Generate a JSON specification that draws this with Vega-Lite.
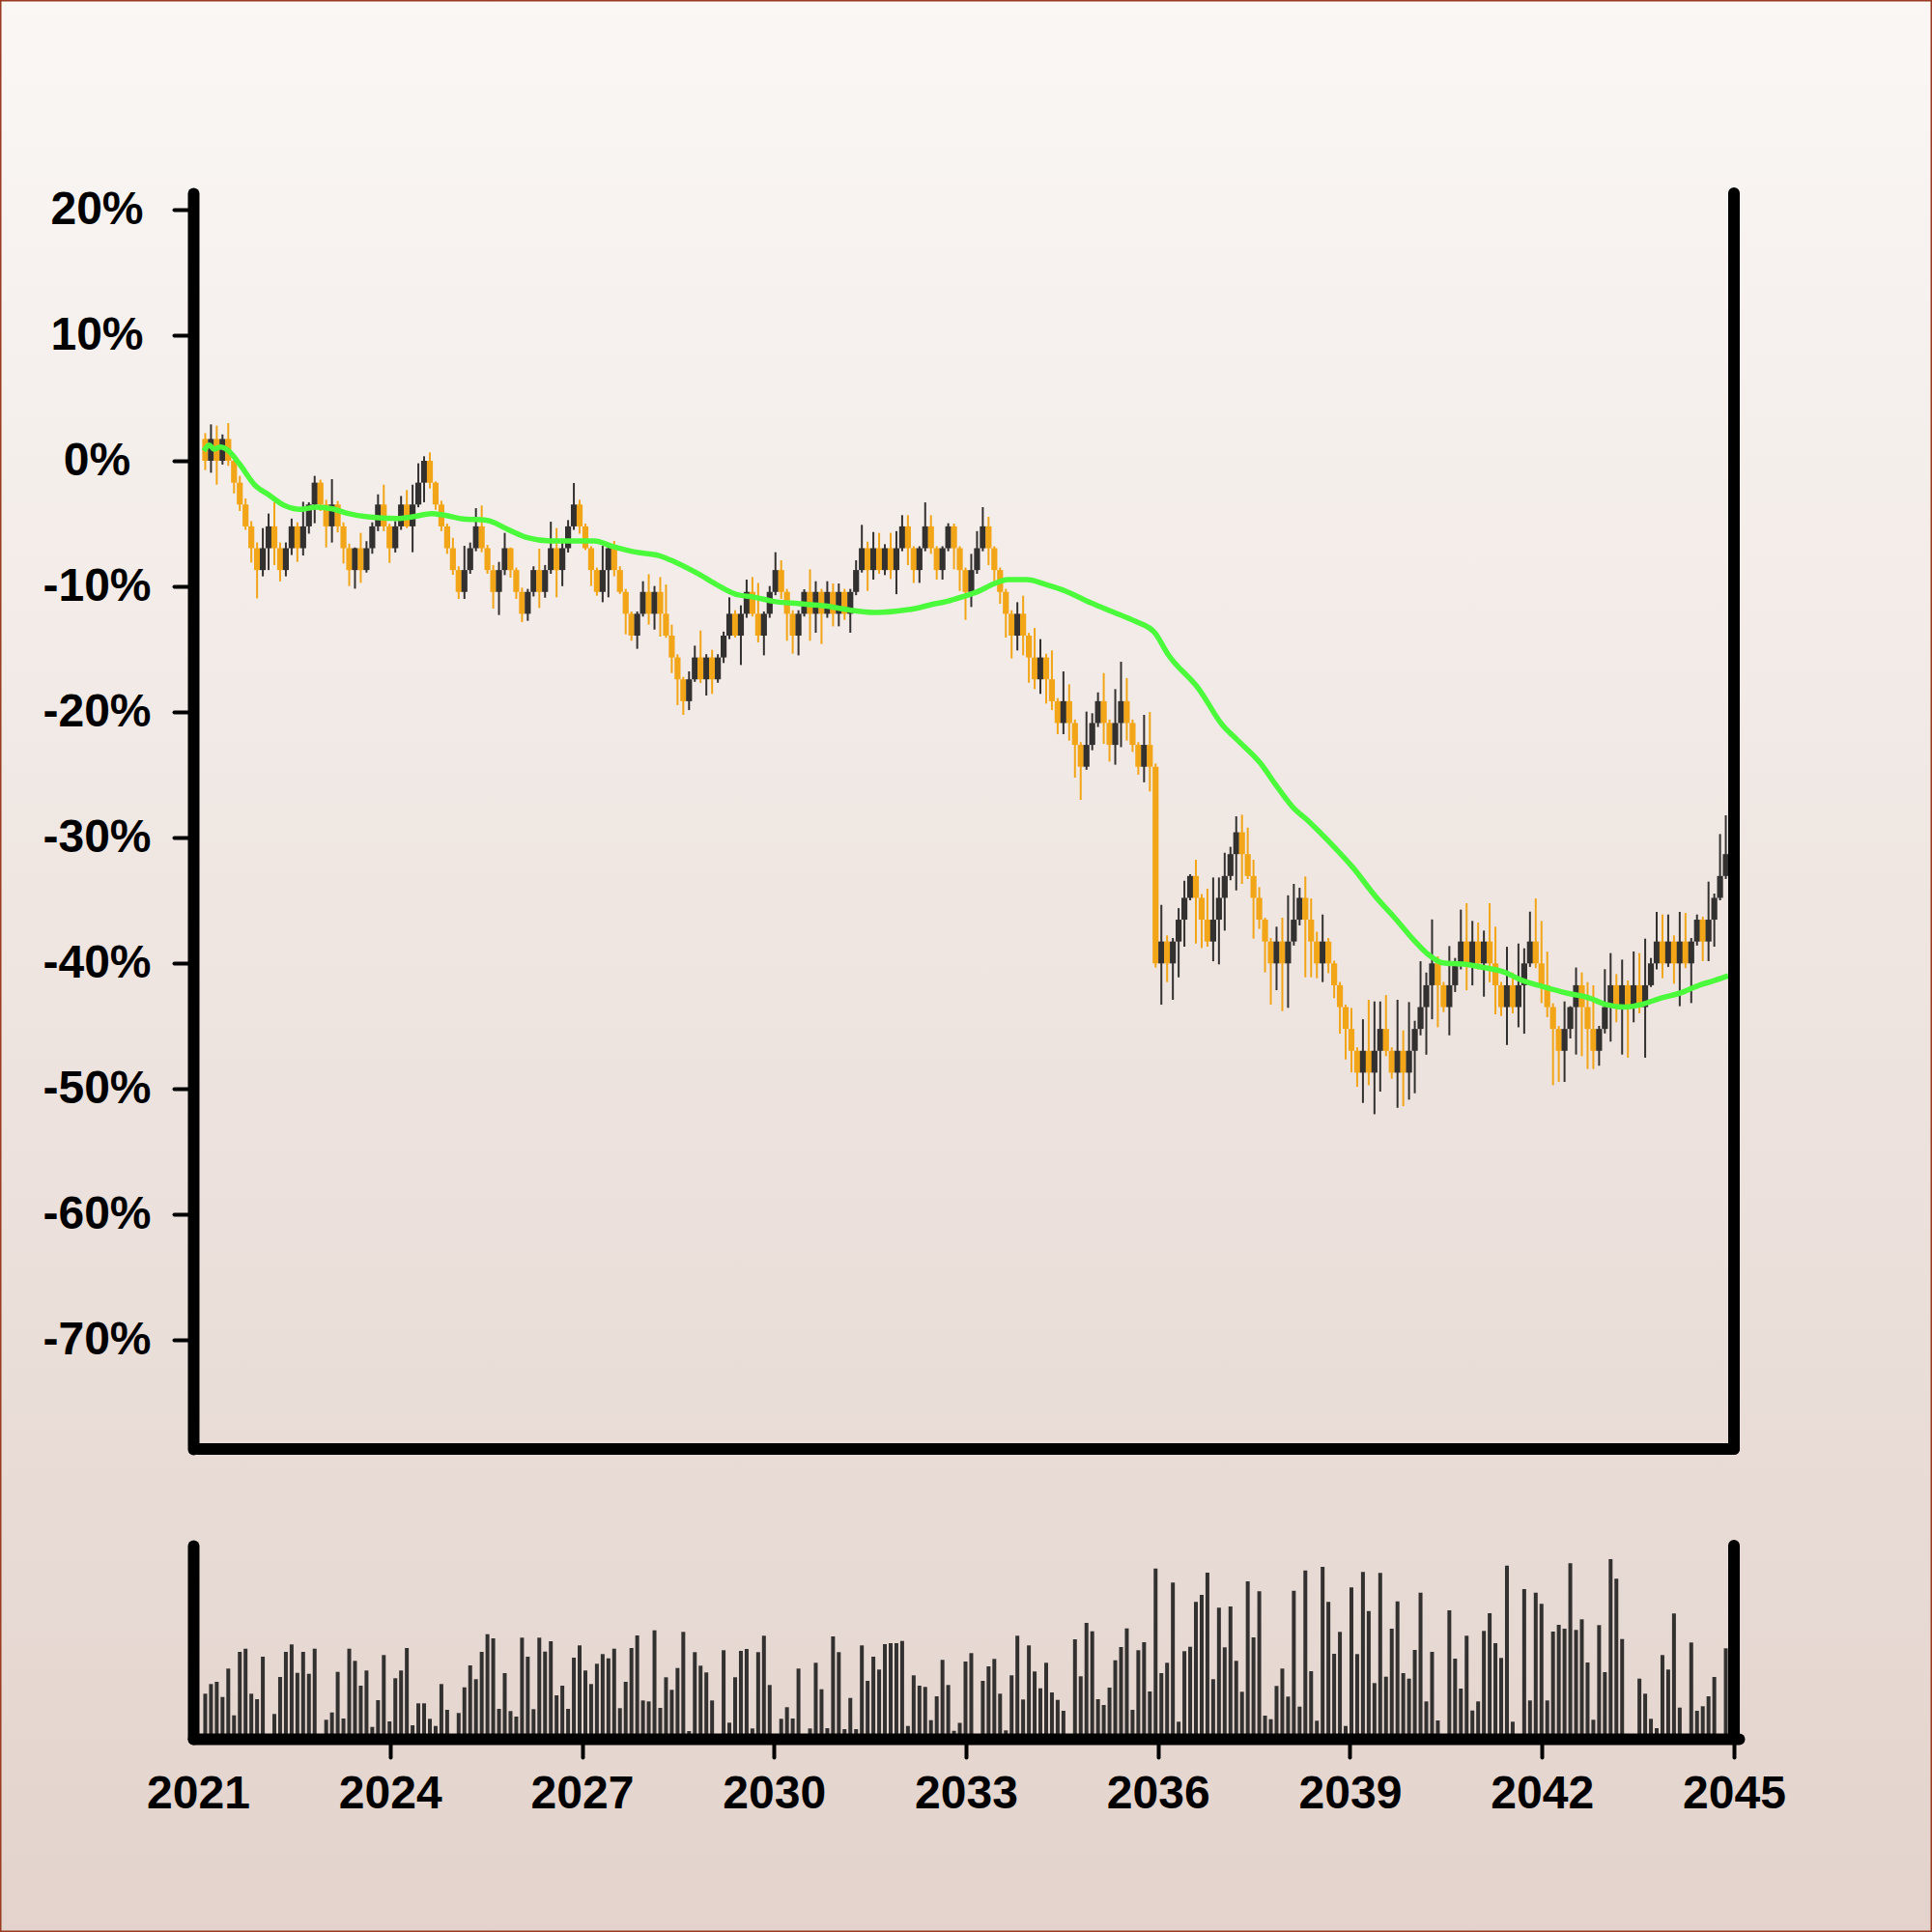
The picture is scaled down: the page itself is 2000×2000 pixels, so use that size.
{
"$schema": "https://vega.github.io/schema/vega-lite/v6.json",
"width": 2000, "height": 2000, "autosize": {"type": "none"}, "padding": 0,
"background": "#f9f6f4",
"config": {"view": {"fill": {"gradient": "linear", "x1": 0, "y1": 0, "x2": 0, "y2": 1, "stops": [{"offset": 0, "color": "#faf7f5"}, {"offset": 1, "color": "#e3d3cc"}]}, "stroke": "#9a3a20", "strokeWidth": 3}},
"datasets": {
"candles": [
{"t":2021.1125,"o":1.74,"h":2.2,"l":-0.74,"c":0,"v":46.7},
{"t":2021.2025,"o":0,"h":2.9,"l":-0.95,"c":1.74,"v":56.7},
{"t":2021.2925,"o":1.74,"h":2.8,"l":-1.9,"c":0,"v":59},
{"t":2021.3825,"o":0,"h":2.1,"l":-0.3,"c":1.74,"v":43.3},
{"t":2021.4725,"o":1.74,"h":3.0,"l":-0.4,"c":0,"v":72.7},
{"t":2021.5625,"o":0,"h":0.4,"l":-2.6,"c":-1.74,"v":24.3},
{"t":2021.6525,"o":-1.74,"h":-1.2,"l":-4.0,"c":-3.48,"v":90},
{"t":2021.7425,"o":-3.48,"h":-3.0,"l":-5.5,"c":-5.22,"v":93.3},
{"t":2021.8325,"o":-5.22,"h":-4.8,"l":-8.1,"c":-6.96,"v":46.7},
{"t":2021.9225,"o":-6.96,"h":-6.5,"l":-10.95,"c":-8.7,"v":41},
{"t":2022.0125,"o":-8.7,"h":-5.36,"l":-9.2,"c":-6.96,"v":85},
{"t":2022.1025,"o":-6.96,"h":-4.2,"l":-8.7,"c":-5.22,"v":0},
{"t":2022.1925,"o":-5.22,"h":-3.3,"l":-8.3,"c":-6.96,"v":25.7},
{"t":2022.2825,"o":-6.96,"h":-6.5,"l":-9.6,"c":-8.7,"v":64},
{"t":2022.3725,"o":-8.7,"h":-6.5,"l":-9.2,"c":-6.96,"v":90},
{"t":2022.4625,"o":-6.96,"h":-4.6,"l":-7.5,"c":-5.22,"v":97.7},
{"t":2022.5525,"o":-5.22,"h":-4.9,"l":-8.05,"c":-6.96,"v":68.3},
{"t":2022.6425,"o":-6.96,"h":-3.26,"l":-7.54,"c":-5.22,"v":90},
{"t":2022.7325,"o":-5.22,"h":-3.3,"l":-5.8,"c":-3.48,"v":67.3},
{"t":2022.8225,"o":-3.48,"h":-1.2,"l":-4.97,"c":-1.74,"v":93.3},
{"t":2022.9125,"o":-1.74,"h":-1.5,"l":-4.0,"c":-3.48,"v":2},
{"t":2023.0025,"o":-3.48,"h":-3.1,"l":-6.9,"c":-5.22,"v":19.7},
{"t":2023.0925,"o":-5.22,"h":-1.46,"l":-6.51,"c":-3.48,"v":27.3},
{"t":2023.1825,"o":-3.48,"h":-3.2,"l":-5.7,"c":-5.22,"v":69.3},
{"t":2023.2725,"o":-5.22,"h":-4.9,"l":-8.18,"c":-6.96,"v":21},
{"t":2023.3625,"o":-6.96,"h":-6.6,"l":-9.97,"c":-8.7,"v":93.3},
{"t":2023.4525,"o":-8.7,"h":-6.9,"l":-10.18,"c":-6.96,"v":80.7},
{"t":2023.5425,"o":-6.96,"h":-5.74,"l":-9.72,"c":-8.7,"v":55},
{"t":2023.6325,"o":-8.7,"h":-6.4,"l":-8.9,"c":-6.96,"v":70.7},
{"t":2023.7225,"o":-6.96,"h":-4.9,"l":-7.4,"c":-5.22,"v":12.3},
{"t":2023.8125,"o":-5.22,"h":-2.67,"l":-5.6,"c":-3.48,"v":40},
{"t":2023.9025,"o":-3.48,"h":-1.9,"l":-5.6,"c":-5.22,"v":86.7},
{"t":2023.9925,"o":-5.22,"h":-5.0,"l":-8.13,"c":-6.96,"v":18},
{"t":2024.0825,"o":-6.96,"h":-4.8,"l":-7.3,"c":-5.22,"v":62.7},
{"t":2024.1725,"o":-5.22,"h":-2.8,"l":-5.5,"c":-3.48,"v":70.7},
{"t":2024.2625,"o":-3.48,"h":-2.33,"l":-5.36,"c":-5.22,"v":94},
{"t":2024.3525,"o":-5.22,"h":-1.9,"l":-7.28,"c":-3.48,"v":14},
{"t":2024.4425,"o":-3.48,"h":-0.2,"l":-3.7,"c":-1.74,"v":36.7},
{"t":2024.5325,"o":-1.74,"h":0.36,"l":-3.3,"c":0,"v":36.7},
{"t":2024.6225,"o":0,"h":0.67,"l":-2.2,"c":-1.74,"v":20.7},
{"t":2024.7125,"o":-1.74,"h":-1.64,"l":-3.9,"c":-3.48,"v":13.3},
{"t":2024.8025,"o":-3.48,"h":-3.18,"l":-5.6,"c":-5.22,"v":56.7},
{"t":2024.8925,"o":-5.22,"h":-5.0,"l":-7.41,"c":-6.96,"v":30},
{"t":2024.9825,"o":-6.96,"h":-6.13,"l":-9.08,"c":-8.7,"v":0},
{"t":2025.0725,"o":-8.7,"h":-8.4,"l":-11.0,"c":-10.44,"v":26.7},
{"t":2025.1625,"o":-10.44,"h":-6.77,"l":-11.0,"c":-8.7,"v":53.3},
{"t":2025.2525,"o":-8.7,"h":-6.51,"l":-9.0,"c":-6.96,"v":76},
{"t":2025.3425,"o":-6.96,"h":-3.77,"l":-7.2,"c":-5.22,"v":61.7},
{"t":2025.4325,"o":-5.22,"h":-3.56,"l":-7.28,"c":-6.96,"v":90},
{"t":2025.5225,"o":-6.96,"h":-6.7,"l":-9.0,"c":-8.7,"v":108.3},
{"t":2025.6125,"o":-8.7,"h":-8.3,"l":-11.77,"c":-10.44,"v":104},
{"t":2025.7025,"o":-10.44,"h":-8.05,"l":-12.28,"c":-8.7,"v":31},
{"t":2025.7925,"o":-8.7,"h":-5.74,"l":-9.1,"c":-6.96,"v":68},
{"t":2025.8825,"o":-6.96,"h":-6.9,"l":-9.3,"c":-8.7,"v":28.7},
{"t":2025.9725,"o":-8.7,"h":-8.5,"l":-11.0,"c":-10.44,"v":23},
{"t":2026.0625,"o":-10.44,"h":-10.1,"l":-12.85,"c":-12.18,"v":104.7},
{"t":2026.1525,"o":-12.18,"h":-10.2,"l":-12.74,"c":-10.44,"v":85},
{"t":2026.2425,"o":-10.44,"h":-8.4,"l":-10.8,"c":-8.7,"v":30.7},
{"t":2026.3325,"o":-8.7,"h":-7.0,"l":-11.72,"c":-10.44,"v":104.7},
{"t":2026.4225,"o":-10.44,"h":-8.3,"l":-10.9,"c":-8.7,"v":90.3},
{"t":2026.5125,"o":-8.7,"h":-4.85,"l":-9.0,"c":-6.96,"v":101},
{"t":2026.6025,"o":-6.96,"h":-5.36,"l":-10.87,"c":-8.7,"v":45},
{"t":2026.6925,"o":-8.7,"h":-6.2,"l":-9.98,"c":-6.96,"v":55},
{"t":2026.7825,"o":-6.96,"h":-4.72,"l":-7.3,"c":-5.22,"v":31},
{"t":2026.8725,"o":-5.22,"h":-1.77,"l":-5.5,"c":-3.48,"v":84},
{"t":2026.9625,"o":-3.48,"h":-3.1,"l":-5.8,"c":-5.22,"v":96.7},
{"t":2027.0525,"o":-5.22,"h":-5.0,"l":-7.1,"c":-6.96,"v":70.7},
{"t":2027.1425,"o":-6.96,"h":-6.8,"l":-9.97,"c":-8.7,"v":56.7},
{"t":2027.2325,"o":-8.7,"h":-8.5,"l":-10.74,"c":-10.44,"v":77.7},
{"t":2027.3225,"o":-10.44,"h":-6.77,"l":-11.26,"c":-8.7,"v":87.7},
{"t":2027.4125,"o":-8.7,"h":-6.77,"l":-10.87,"c":-6.96,"v":83.3},
{"t":2027.5025,"o":-6.96,"h":-6.38,"l":-9.2,"c":-8.7,"v":93.3},
{"t":2027.5925,"o":-8.7,"h":-8.4,"l":-10.6,"c":-10.44,"v":31.7},
{"t":2027.6825,"o":-10.44,"h":-10.2,"l":-13.82,"c":-12.18,"v":59},
{"t":2027.7725,"o":-12.18,"h":-12.0,"l":-14.33,"c":-13.92,"v":94},
{"t":2027.8625,"o":-13.92,"h":-12.0,"l":-14.97,"c":-12.18,"v":107},
{"t":2027.9525,"o":-12.18,"h":-9.59,"l":-12.4,"c":-10.44,"v":39.7},
{"t":2028.0425,"o":-10.44,"h":-9.03,"l":-13.05,"c":-12.18,"v":38.7},
{"t":2028.1325,"o":-12.18,"h":-9.97,"l":-13.44,"c":-10.44,"v":112.3},
{"t":2028.2225,"o":-10.44,"h":-9.26,"l":-14.0,"c":-12.18,"v":32},
{"t":2028.3125,"o":-12.18,"h":-9.85,"l":-14.1,"c":-13.92,"v":63.7},
{"t":2028.4025,"o":-13.92,"h":-13.05,"l":-16.9,"c":-15.66,"v":50.7},
{"t":2028.4925,"o":-15.66,"h":-15.4,"l":-19.46,"c":-17.4,"v":73.3},
{"t":2028.5825,"o":-17.4,"h":-17.2,"l":-20.23,"c":-19.14,"v":110.7},
{"t":2028.6725,"o":-19.14,"h":-16.77,"l":-19.85,"c":-17.4,"v":8},
{"t":2028.7625,"o":-17.4,"h":-14.72,"l":-17.6,"c":-15.66,"v":89.7},
{"t":2028.8525,"o":-15.66,"h":-13.51,"l":-17.7,"c":-17.4,"v":75.7},
{"t":2028.9425,"o":-17.4,"h":-15.4,"l":-18.69,"c":-15.66,"v":68.7},
{"t":2029.0325,"o":-15.66,"h":-15.05,"l":-18.56,"c":-17.4,"v":39.7},
{"t":2029.1225,"o":-17.4,"h":-15.4,"l":-17.67,"c":-15.66,"v":0},
{"t":2029.2125,"o":-15.66,"h":-13.6,"l":-16.1,"c":-13.92,"v":91.7},
{"t":2029.3025,"o":-13.92,"h":-10.87,"l":-14.2,"c":-12.18,"v":16.7},
{"t":2029.3925,"o":-12.18,"h":-11.9,"l":-14.08,"c":-13.92,"v":63.7},
{"t":2029.4825,"o":-13.92,"h":-11.51,"l":-16.26,"c":-12.18,"v":91},
{"t":2029.5725,"o":-12.18,"h":-9.46,"l":-12.5,"c":-10.44,"v":93},
{"t":2029.6625,"o":-10.44,"h":-9.26,"l":-12.4,"c":-12.18,"v":10.7},
{"t":2029.7525,"o":-12.18,"h":-9.72,"l":-14.46,"c":-13.92,"v":89.7},
{"t":2029.8425,"o":-13.92,"h":-12.0,"l":-15.49,"c":-12.18,"v":106.7},
{"t":2029.9325,"o":-12.18,"h":-9.97,"l":-12.5,"c":-10.44,"v":55.7},
{"t":2030.0225,"o":-10.44,"h":-7.28,"l":-10.7,"c":-8.7,"v":0},
{"t":2030.1125,"o":-8.7,"h":-7.92,"l":-11.0,"c":-10.44,"v":20.7},
{"t":2030.2025,"o":-10.44,"h":-10.2,"l":-14.33,"c":-12.18,"v":32.7},
{"t":2030.2925,"o":-12.18,"h":-11.9,"l":-15.36,"c":-13.92,"v":21},
{"t":2030.3825,"o":-13.92,"h":-11.9,"l":-15.49,"c":-12.18,"v":72.7},
{"t":2030.4725,"o":-12.18,"h":-10.23,"l":-12.4,"c":-10.44,"v":0},
{"t":2030.5625,"o":-10.44,"h":-8.64,"l":-14.33,"c":-12.18,"v":10.7},
{"t":2030.6525,"o":-12.18,"h":-9.59,"l":-13.69,"c":-10.44,"v":78.7},
{"t":2030.7425,"o":-10.44,"h":-10.2,"l":-14.59,"c":-12.18,"v":51.3},
{"t":2030.8325,"o":-12.18,"h":-9.59,"l":-12.5,"c":-10.44,"v":11},
{"t":2030.9225,"o":-10.44,"h":-9.77,"l":-13.18,"c":-12.18,"v":106},
{"t":2031.0125,"o":-12.18,"h":-9.77,"l":-13.18,"c":-10.44,"v":89.7},
{"t":2031.1025,"o":-10.44,"h":-10.2,"l":-12.67,"c":-12.18,"v":10},
{"t":2031.1925,"o":-12.18,"h":-10.2,"l":-13.69,"c":-10.44,"v":42.3},
{"t":2031.2825,"o":-10.44,"h":-7.92,"l":-10.7,"c":-8.7,"v":10},
{"t":2031.3725,"o":-8.7,"h":-5.1,"l":-8.9,"c":-6.96,"v":96.7},
{"t":2031.4625,"o":-6.96,"h":-6.44,"l":-10.36,"c":-8.7,"v":60},
{"t":2031.5525,"o":-8.7,"h":-5.67,"l":-9.46,"c":-6.96,"v":85},
{"t":2031.6425,"o":-6.96,"h":-5.74,"l":-9.0,"c":-8.7,"v":71.7},
{"t":2031.7325,"o":-8.7,"h":-6.64,"l":-9.1,"c":-6.96,"v":98},
{"t":2031.8225,"o":-6.96,"h":-5.74,"l":-9.41,"c":-8.7,"v":99},
{"t":2031.9125,"o":-8.7,"h":-5.6,"l":-10.62,"c":-6.96,"v":99},
{"t":2032.0025,"o":-6.96,"h":-4.33,"l":-7.2,"c":-5.22,"v":101.3},
{"t":2032.0925,"o":-5.22,"h":-4.33,"l":-8.31,"c":-6.96,"v":13.3},
{"t":2032.1825,"o":-6.96,"h":-6.8,"l":-9.72,"c":-8.7,"v":65.7},
{"t":2032.2725,"o":-8.7,"h":-6.8,"l":-9.72,"c":-6.96,"v":55},
{"t":2032.3625,"o":-6.96,"h":-3.31,"l":-7.2,"c":-5.22,"v":53.7},
{"t":2032.4525,"o":-5.22,"h":-4.33,"l":-7.41,"c":-6.96,"v":19.3},
{"t":2032.5425,"o":-6.96,"h":-6.8,"l":-9.46,"c":-8.7,"v":44},
{"t":2032.6325,"o":-8.7,"h":-6.8,"l":-9.46,"c":-6.96,"v":81.7},
{"t":2032.7225,"o":-6.96,"h":-4.97,"l":-7.2,"c":-5.22,"v":55.7},
{"t":2032.8125,"o":-5.22,"h":-5.0,"l":-8.64,"c":-6.96,"v":8.3},
{"t":2032.9025,"o":-6.96,"h":-6.8,"l":-10.36,"c":-8.7,"v":16.5},
{"t":2032.9925,"o":-8.7,"h":-8.5,"l":-12.67,"c":-10.44,"v":80},
{"t":2033.0825,"o":-10.44,"h":-7.41,"l":-11.64,"c":-8.7,"v":88.7},
{"t":2033.1725,"o":-8.7,"h":-5.6,"l":-9.0,"c":-6.96,"v":0},
{"t":2033.2625,"o":-6.96,"h":-3.69,"l":-7.2,"c":-5.22,"v":60},
{"t":2033.3525,"o":-5.22,"h":-4.46,"l":-8.31,"c":-6.96,"v":75},
{"t":2033.4425,"o":-6.96,"h":-6.8,"l":-9.59,"c":-8.7,"v":82.7},
{"t":2033.5325,"o":-8.7,"h":-8.5,"l":-11.38,"c":-10.44,"v":46.7},
{"t":2033.6225,"o":-10.44,"h":-10.2,"l":-14.08,"c":-12.18,"v":8.7},
{"t":2033.7125,"o":-12.18,"h":-11.9,"l":-15.74,"c":-13.92,"v":65.7},
{"t":2033.8025,"o":-13.92,"h":-11.26,"l":-15.1,"c":-12.18,"v":106.7},
{"t":2033.8925,"o":-12.18,"h":-10.74,"l":-15.49,"c":-13.92,"v":40.7},
{"t":2033.9825,"o":-13.92,"h":-13.7,"l":-17.67,"c":-15.66,"v":96.7},
{"t":2034.0725,"o":-15.66,"h":-13.31,"l":-18.18,"c":-17.4,"v":69.7},
{"t":2034.1625,"o":-17.4,"h":-14.2,"l":-18.56,"c":-15.66,"v":52.3},
{"t":2034.2525,"o":-15.66,"h":-15.36,"l":-19.33,"c":-17.4,"v":78.7},
{"t":2034.3425,"o":-17.4,"h":-15.1,"l":-19.85,"c":-19.14,"v":48},
{"t":2034.4325,"o":-19.14,"h":-18.9,"l":-21.77,"c":-20.88,"v":40.3},
{"t":2034.5225,"o":-20.88,"h":-16.77,"l":-21.77,"c":-19.14,"v":29},
{"t":2034.6125,"o":-19.14,"h":-17.8,"l":-22.28,"c":-20.88,"v":0},
{"t":2034.7025,"o":-20.88,"h":-20.6,"l":-25.23,"c":-22.62,"v":103},
{"t":2034.7925,"o":-22.62,"h":-22.4,"l":-27.0,"c":-24.36,"v":64.7},
{"t":2034.8825,"o":-24.36,"h":-19.97,"l":-24.6,"c":-22.62,"v":120},
{"t":2034.9725,"o":-22.62,"h":-20.1,"l":-23.05,"c":-20.88,"v":111.3},
{"t":2035.0625,"o":-20.88,"h":-18.44,"l":-21.2,"c":-19.14,"v":41},
{"t":2035.1525,"o":-19.14,"h":-16.9,"l":-22.54,"c":-20.88,"v":35},
{"t":2035.2425,"o":-20.88,"h":-20.6,"l":-23.95,"c":-22.62,"v":53},
{"t":2035.3325,"o":-22.62,"h":-18.18,"l":-24.2,"c":-20.88,"v":81.3},
{"t":2035.4225,"o":-20.88,"h":-16.0,"l":-22.8,"c":-19.14,"v":95},
{"t":2035.5125,"o":-19.14,"h":-17.3,"l":-22.28,"c":-20.88,"v":114.3},
{"t":2035.6025,"o":-20.88,"h":-20.6,"l":-23.18,"c":-22.62,"v":30},
{"t":2035.6925,"o":-22.62,"h":-22.4,"l":-25.0,"c":-24.36,"v":91.7},
{"t":2035.7825,"o":-24.36,"h":-20.23,"l":-25.6,"c":-22.62,"v":100},
{"t":2035.8725,"o":-22.62,"h":-20.0,"l":-26.33,"c":-24.36,"v":49},
{"t":2035.9625,"o":-24.36,"h":-24.1,"l":-40.36,"c":-40.02,"v":176.3},
{"t":2036.0525,"o":-40.02,"h":-35.36,"l":-43.31,"c":-38.28,"v":68},
{"t":2036.1425,"o":-38.28,"h":-37.79,"l":-41.51,"c":-40.02,"v":78.7},
{"t":2036.2325,"o":-40.02,"h":-38.0,"l":-42.92,"c":-38.28,"v":161.7},
{"t":2036.3225,"o":-38.28,"h":-35.62,"l":-41.13,"c":-36.54,"v":17.7},
{"t":2036.4125,"o":-36.54,"h":-33.44,"l":-38.69,"c":-34.8,"v":90.7},
{"t":2036.5025,"o":-34.8,"h":-32.92,"l":-35.0,"c":-33.06,"v":95.3},
{"t":2036.5925,"o":-33.06,"h":-31.77,"l":-38.44,"c":-34.8,"v":141.7},
{"t":2036.6825,"o":-34.8,"h":-34.5,"l":-38.8,"c":-36.54,"v":149},
{"t":2036.7725,"o":-36.54,"h":-34.08,"l":-38.69,"c":-38.28,"v":172},
{"t":2036.8625,"o":-38.28,"h":-33.18,"l":-39.85,"c":-36.54,"v":61.7},
{"t":2036.9525,"o":-36.54,"h":-33.18,"l":-40.1,"c":-34.8,"v":135.7},
{"t":2037.0425,"o":-34.8,"h":-31.21,"l":-37.41,"c":-33.06,"v":94.7},
{"t":2037.1325,"o":-33.06,"h":-30.74,"l":-33.4,"c":-31.32,"v":137},
{"t":2037.2225,"o":-31.32,"h":-28.31,"l":-34.21,"c":-29.58,"v":80.7},
{"t":2037.3125,"o":-29.58,"h":-28.18,"l":-33.69,"c":-31.32,"v":48.7},
{"t":2037.4025,"o":-31.32,"h":-29.21,"l":-33.31,"c":-33.06,"v":163},
{"t":2037.4925,"o":-33.06,"h":-31.77,"l":-38.05,"c":-34.8,"v":105},
{"t":2037.5825,"o":-34.8,"h":-33.95,"l":-37.28,"c":-36.54,"v":152.7},
{"t":2037.6725,"o":-36.54,"h":-36.38,"l":-40.74,"c":-38.28,"v":24},
{"t":2037.7625,"o":-38.28,"h":-38.0,"l":-43.31,"c":-40.02,"v":20.3},
{"t":2037.8525,"o":-40.02,"h":-37.1,"l":-42.15,"c":-38.28,"v":54.7},
{"t":2037.9425,"o":-38.28,"h":-36.38,"l":-43.82,"c":-40.02,"v":72.7},
{"t":2038.0325,"o":-40.02,"h":-34.6,"l":-43.56,"c":-38.28,"v":43.7},
{"t":2038.1225,"o":-38.28,"h":-33.69,"l":-38.6,"c":-36.54,"v":153.3},
{"t":2038.2125,"o":-36.54,"h":-34.0,"l":-37.0,"c":-34.8,"v":33.3},
{"t":2038.3025,"o":-34.8,"h":-33.1,"l":-41.13,"c":-36.54,"v":174.3},
{"t":2038.3925,"o":-36.54,"h":-34.85,"l":-41.13,"c":-38.28,"v":70},
{"t":2038.4825,"o":-38.28,"h":-37.5,"l":-41.2,"c":-40.02,"v":18.7},
{"t":2038.5725,"o":-40.02,"h":-36.13,"l":-41.51,"c":-38.28,"v":178},
{"t":2038.6625,"o":-38.28,"h":-38.0,"l":-40.8,"c":-40.02,"v":141.7},
{"t":2038.7525,"o":-40.02,"h":-39.8,"l":-42.79,"c":-41.76,"v":88},
{"t":2038.8425,"o":-41.76,"h":-41.5,"l":-45.62,"c":-43.5,"v":110.7},
{"t":2038.9325,"o":-43.5,"h":-43.3,"l":-47.67,"c":-45.24,"v":13.3},
{"t":2039.0225,"o":-45.24,"h":-43.57,"l":-48.7,"c":-46.98,"v":156.7},
{"t":2039.1125,"o":-46.98,"h":-46.7,"l":-49.85,"c":-48.72,"v":87.7},
{"t":2039.2025,"o":-48.72,"h":-44.47,"l":-51.13,"c":-46.98,"v":172.7},
{"t":2039.2925,"o":-46.98,"h":-42.92,"l":-49.72,"c":-48.72,"v":132.3},
{"t":2039.3825,"o":-48.72,"h":-43.05,"l":-52.03,"c":-46.98,"v":57.7},
{"t":2039.4725,"o":-46.98,"h":-43.05,"l":-50.23,"c":-45.24,"v":171.7},
{"t":2039.5625,"o":-45.24,"h":-42.54,"l":-47.41,"c":-46.98,"v":64.3},
{"t":2039.6525,"o":-46.98,"h":-46.7,"l":-49.21,"c":-48.72,"v":114},
{"t":2039.7425,"o":-48.72,"h":-42.92,"l":-51.52,"c":-46.98,"v":142.3},
{"t":2039.8325,"o":-46.98,"h":-45.36,"l":-51.39,"c":-48.72,"v":68},
{"t":2039.9225,"o":-48.72,"h":-43.1,"l":-50.87,"c":-46.98,"v":62.3},
{"t":2040.0125,"o":-46.98,"h":-44.59,"l":-50.36,"c":-45.24,"v":92},
{"t":2040.1025,"o":-45.24,"h":-39.85,"l":-45.75,"c":-43.5,"v":151.3},
{"t":2040.1925,"o":-43.5,"h":-40.75,"l":-47.29,"c":-41.76,"v":38.7},
{"t":2040.2825,"o":-41.76,"h":-36.52,"l":-44.47,"c":-40.02,"v":90},
{"t":2040.3725,"o":-40.02,"h":-39.46,"l":-45.11,"c":-41.76,"v":19},
{"t":2040.4625,"o":-41.76,"h":-41.5,"l":-43.9,"c":-43.5,"v":0},
{"t":2040.5525,"o":-43.5,"h":-38.64,"l":-45.75,"c":-41.76,"v":133},
{"t":2040.6425,"o":-41.76,"h":-39.59,"l":-42.3,"c":-40.02,"v":83},
{"t":2040.7325,"o":-40.02,"h":-35.74,"l":-40.5,"c":-38.28,"v":52},
{"t":2040.8225,"o":-38.28,"h":-35.23,"l":-42.16,"c":-40.02,"v":106.7},
{"t":2040.9125,"o":-40.02,"h":-36.64,"l":-41.77,"c":-38.28,"v":29.3},
{"t":2041.0025,"o":-38.28,"h":-36.77,"l":-40.5,"c":-40.02,"v":38.7},
{"t":2041.0925,"o":-40.02,"h":-37.41,"l":-42.67,"c":-38.28,"v":111.7},
{"t":2041.1825,"o":-38.28,"h":-35.23,"l":-41.52,"c":-40.02,"v":130},
{"t":2041.2725,"o":-40.02,"h":-37.1,"l":-44.08,"c":-41.76,"v":99},
{"t":2041.3625,"o":-41.76,"h":-41.5,"l":-44.21,"c":-43.5,"v":83.7},
{"t":2041.4525,"o":-43.5,"h":-38.7,"l":-46.52,"c":-41.76,"v":179.3},
{"t":2041.5425,"o":-41.76,"h":-40.75,"l":-44.0,"c":-43.5,"v":17.7},
{"t":2041.6325,"o":-43.5,"h":-38.44,"l":-45.11,"c":-41.76,"v":0},
{"t":2041.7225,"o":-41.76,"h":-38.82,"l":-45.62,"c":-40.02,"v":155},
{"t":2041.8125,"o":-40.02,"h":-35.9,"l":-40.3,"c":-38.28,"v":39.7},
{"t":2041.9025,"o":-38.28,"h":-34.85,"l":-40.4,"c":-40.02,"v":151.3},
{"t":2041.9925,"o":-40.02,"h":-36.64,"l":-43.18,"c":-41.76,"v":139.7},
{"t":2042.0825,"o":-41.76,"h":-39.08,"l":-44.3,"c":-43.5,"v":39.7},
{"t":2042.1725,"o":-43.5,"h":-43.2,"l":-49.72,"c":-45.24,"v":111},
{"t":2042.2625,"o":-45.24,"h":-45.0,"l":-49.46,"c":-46.98,"v":118},
{"t":2042.3525,"o":-46.98,"h":-43.05,"l":-49.46,"c":-45.24,"v":114},
{"t":2042.4425,"o":-45.24,"h":-43.43,"l":-46.0,"c":-43.5,"v":181.7},
{"t":2042.5325,"o":-43.5,"h":-40.35,"l":-47.28,"c":-41.76,"v":112.7},
{"t":2042.6225,"o":-41.76,"h":-40.74,"l":-47.41,"c":-43.5,"v":123.7},
{"t":2042.7125,"o":-43.5,"h":-41.51,"l":-48.43,"c":-45.24,"v":79},
{"t":2042.8025,"o":-45.24,"h":-41.77,"l":-48.43,"c":-46.98,"v":19.7},
{"t":2042.8925,"o":-46.98,"h":-45.0,"l":-48.17,"c":-45.24,"v":117.7},
{"t":2042.9825,"o":-45.24,"h":-40.48,"l":-45.6,"c":-43.5,"v":69},
{"t":2043.0725,"o":-43.5,"h":-39.2,"l":-46.25,"c":-41.76,"v":186},
{"t":2043.1625,"o":-41.76,"h":-40.87,"l":-44.71,"c":-43.5,"v":165.7},
{"t":2043.2525,"o":-43.5,"h":-39.72,"l":-47.28,"c":-41.76,"v":103.3},
{"t":2043.3425,"o":-41.76,"h":-41.38,"l":-47.53,"c":-43.5,"v":0},
{"t":2043.4325,"o":-43.5,"h":-39.07,"l":-44.71,"c":-41.76,"v":0},
{"t":2043.5225,"o":-41.76,"h":-39.2,"l":-44.0,"c":-43.5,"v":62.3},
{"t":2043.6125,"o":-43.5,"h":-38.05,"l":-47.53,"c":-41.76,"v":46.7},
{"t":2043.7025,"o":-41.76,"h":-39.59,"l":-41.9,"c":-40.02,"v":20.7},
{"t":2043.7925,"o":-40.02,"h":-35.92,"l":-40.5,"c":-38.28,"v":11},
{"t":2043.8825,"o":-38.28,"h":-36.13,"l":-41.2,"c":-40.02,"v":86.7},
{"t":2043.9725,"o":-40.02,"h":-36.13,"l":-40.3,"c":-38.28,"v":71.7},
{"t":2044.0625,"o":-38.28,"h":-37.79,"l":-41.64,"c":-40.02,"v":129.7},
{"t":2044.1525,"o":-40.02,"h":-35.92,"l":-43.43,"c":-38.28,"v":32.3},
{"t":2044.2425,"o":-38.28,"h":-36.0,"l":-40.4,"c":-40.02,"v":0},
{"t":2044.3325,"o":-40.02,"h":-38.0,"l":-43.18,"c":-38.28,"v":99.7},
{"t":2044.4225,"o":-38.28,"h":-36.13,"l":-38.6,"c":-36.54,"v":29},
{"t":2044.5125,"o":-36.54,"h":-36.3,"l":-39.84,"c":-38.28,"v":33.7},
{"t":2044.6025,"o":-38.28,"h":-33.51,"l":-39.84,"c":-36.54,"v":44},
{"t":2044.6925,"o":-36.54,"h":-34.46,"l":-38.69,"c":-34.8,"v":64},
{"t":2044.7825,"o":-34.8,"h":-29.72,"l":-35.0,"c":-33.06,"v":0},
{"t":2044.8725,"o":-33.06,"h":-28.23,"l":-33.3,"c":-31.32,"v":93.7}
],
"ma": [
{"t":2021.09,"ma":0.79},{"t":2021.175,"ma":1.26},{"t":2021.25,"ma":0.92},{"t":2021.345,"ma":1.1},{"t":2021.475,"ma":0.8},{"t":2021.645,"ma":-0.23},{"t":2021.9,"ma":-2.0},{"t":2022.095,"ma":-2.67},{"t":2022.35,"ma":-3.56},{"t":2022.6,"ma":-3.87},{"t":2022.845,"ma":-3.69},{"t":2023.1,"ma":-3.82},{"t":2023.35,"ma":-4.2},{"t":2023.65,"ma":-4.46},{"t":2024.1,"ma":-4.59},{"t":2024.35,"ma":-4.46},{"t":2024.65,"ma":-4.2},{"t":2024.85,"ma":-4.33},{"t":2025.15,"ma":-4.64},{"t":2025.5,"ma":-4.72},{"t":2025.85,"ma":-5.49},{"t":2026.15,"ma":-6.13},{"t":2026.5,"ma":-6.38},{"t":2026.85,"ma":-6.38},{"t":2027.2,"ma":-6.38},{"t":2027.45,"ma":-6.77},{"t":2027.85,"ma":-7.28},{"t":2028.2,"ma":-7.54},{"t":2028.45,"ma":-8.05},{"t":2028.8,"ma":-8.95},{"t":2029.1,"ma":-9.85},{"t":2029.4,"ma":-10.62},{"t":2029.7,"ma":-10.87},{"t":2030.0,"ma":-11.2},{"t":2030.4,"ma":-11.38},{"t":2030.8,"ma":-11.56},{"t":2031.2,"ma":-11.9},{"t":2031.55,"ma":-12.08},{"t":2031.9,"ma":-11.97},{"t":2032.2,"ma":-11.77},{"t":2032.45,"ma":-11.46},{"t":2032.7,"ma":-11.2},{"t":2033.0,"ma":-10.74},{"t":2033.15,"ma":-10.49},{"t":2033.45,"ma":-9.77},{"t":2033.65,"ma":-9.46},{"t":2033.95,"ma":-9.46},{"t":2034.25,"ma":-9.85},{"t":2034.55,"ma":-10.36},{"t":2034.95,"ma":-11.31},{"t":2035.35,"ma":-12.15},{"t":2035.65,"ma":-12.79},{"t":2035.95,"ma":-13.69},{"t":2036.15,"ma":-15.36},{"t":2036.65,"ma":-18.25},{"t":2037.0,"ma":-21.0},{"t":2037.25,"ma":-22.28},{"t":2037.6,"ma":-24.08},{"t":2037.85,"ma":-25.87},{"t":2038.1,"ma":-27.54},{"t":2038.35,"ma":-28.69},{"t":2038.75,"ma":-30.74},{"t":2039.05,"ma":-32.41},{"t":2039.4,"ma":-34.7},{"t":2039.7,"ma":-36.4},{"t":2040.0,"ma":-38.18},{"t":2040.2,"ma":-39.21},{"t":2040.45,"ma":-39.98},{"t":2040.8,"ma":-40.1},{"t":2041.1,"ma":-40.36},{"t":2041.4,"ma":-40.7},{"t":2041.7,"ma":-41.39},{"t":2042.0,"ma":-41.85},{"t":2042.4,"ma":-42.4},{"t":2042.75,"ma":-42.79},{"t":2043.0,"ma":-43.3},{"t":2043.3,"ma":-43.5},{"t":2043.55,"ma":-43.3},{"t":2043.85,"ma":-42.79},{"t":2044.15,"ma":-42.4},{"t":2044.45,"ma":-41.77},{"t":2044.7,"ma":-41.38},{"t":2044.91,"ma":-41.0}
]
},
"layer": [
{
"layer": [
{"data": {"name": "candles"},
 "mark": {"type": "rule", "strokeWidth": 2},
 "encoding": {
  "x": {"field": "t", "type": "quantitative", "scale": {"domain": [2021, 2045], "range": [200, 1800], "nice": false, "zero": false},
        "axis": {"orient": "bottom", "offset": -200, "values": [2021, 2024, 2027, 2030, 2033, 2036, 2039, 2042, 2045], "format": "d", "title": null, "grid": false,
                 "domain": true, "domainColor": "#000000", "domainWidth": 12, "domainCap": "round",
                 "ticks": true, "tickSize": 19, "tickWidth": 4, "tickColor": "#000000", "tickCap": "round",
                 "tickOpacity": {"condition": {"test": "datum.value === 2021", "value": 0}, "value": 1},
                 "labelFont": "Liberation Sans", "labelFontSize": 48, "labelFontWeight": "bold", "labelColor": "#000000", "labelPadding": 14, "labelBaseline": "top", "labelFlush": false, "labelOverlap": false, "zindex": 2}},
  "y": {"field": "l", "type": "quantitative", "scale": {"domain": [-78.69, 21.31], "range": [1500, 200], "nice": false, "zero": false},
        "axis": {"orient": "left", "offset": -200, "values": [-70, -60, -50, -40, -30, -20, -10, 0, 10, 20], "labelExpr": "datum.value + '%'", "title": null, "grid": false,
                 "domain": true, "domainColor": "#000000", "domainWidth": 12, "domainCap": "round",
                 "ticks": true, "tickSize": 20, "tickWidth": 4, "tickColor": "#000000", "tickCap": "round",
                 "labelFont": "Liberation Sans", "labelFontSize": 48, "labelFontWeight": "bold", "labelColor": "#000000", "labelAlign": "center", "labelPadding": 80, "labelBaseline": "middle", "labelFlush": false, "labelOverlap": false, "zindex": 2}},
  "y2": {"field": "h"},
  "color": {"condition": {"test": "datum.o > datum.c", "value": "#f2a516"}, "value": "#333030"}
 }},
{"data": {"name": "candles"},
 "mark": {"type": "bar", "width": 6.2},
 "encoding": {
  "x": {"field": "t", "type": "quantitative", "axis": {"title": null}},
  "y": {"field": "o", "type": "quantitative", "axis": {"title": null}},
  "y2": {"field": "c"},
  "color": {"condition": {"test": "datum.o > datum.c", "value": "#f2a516"}, "value": "#333030"}
 }},
{"data": {"name": "ma"},
 "mark": {"type": "line", "stroke": "#4cfa3c", "strokeWidth": 5.5, "interpolate": "monotone"},
 "encoding": {
  "x": {"field": "t", "type": "quantitative", "axis": {"title": null}},
  "y": {"field": "ma", "type": "quantitative", "axis": {"title": null}}
 }},
{"data": {"values": [{}]},
 "mark": {"type": "rule", "strokeWidth": 12, "strokeCap": "round", "color": "#000000"},
 "encoding": {
  "x": {"datum": 2045, "type": "quantitative", "axis": {"title": null}},
  "y": {"datum": -78.69, "type": "quantitative", "axis": {"title": null}},
  "y2": {"datum": 21.31}
 }},
{"data": {"values": [{}]},
 "mark": {"type": "rule", "strokeWidth": 12, "strokeCap": "round", "color": "#000000"},
 "encoding": {
  "x": {"datum": 2021, "type": "quantitative", "axis": {"title": null}},
  "x2": {"datum": 2045},
  "y": {"datum": -78.69, "type": "quantitative", "axis": {"title": null}}
 }}
]
},
{
"layer": [
{"data": {"name": "candles"},
 "mark": {"type": "bar", "width": 4, "color": "#333030"},
 "encoding": {
  "x": {"field": "t", "type": "quantitative", "axis": {"title": null}},
  "y": {"field": "v", "type": "quantitative", "scale": {"domain": [0, 200], "range": [1800, 1600], "nice": false},
        "axis": {"orient": "left", "offset": -200, "title": null, "grid": false, "labels": false, "ticks": false,
                 "domain": true, "domainColor": "#000000", "domainWidth": 12, "domainCap": "round", "zindex": 2}}
 }},
{"data": {"values": [{}]},
 "mark": {"type": "rule", "strokeWidth": 12, "strokeCap": "round", "color": "#000000"},
 "encoding": {
  "x": {"datum": 2045, "type": "quantitative", "axis": {"title": null}},
  "y": {"datum": 0, "type": "quantitative", "axis": {"title": null}},
  "y2": {"datum": 200}
 }}
]
}
],
"resolve": {"scale": {"y": "independent"}, "axis": {"y": "independent"}}
}
